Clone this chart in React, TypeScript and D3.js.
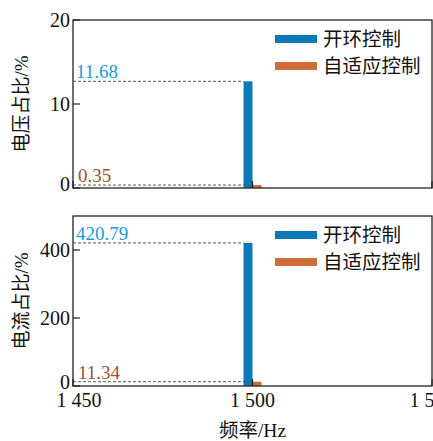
import React from "react";
import * as d3 from "d3";

const series = ["开环控制", "自适应控制"];
const colors = ["#0a78b9", "#d26b3a"];
const labelColors = ["#1a9ad6", "#a0522d"];
const voltageValues = [12.7, 0.35];
const voltageLabels = ["11.68", "0.35"];
const currentValues = [420.79, 12.6];
const currentLabels = ["420.79", "11.34"];
const freq = 1500;
const xTicks = [1450, 1500, 1550];
const xTickLabels = ["1 450", "1 500", "1 550"];
const voltageTicks = [0, 10, 20];
const currentTicks = [0, 200, 400];

const W = 433, H = 441;
const left = 73, right = 432;
const serif = "'Liberation Serif', 'Times New Roman', serif";
const cjk = "'Liberation Serif', 'Noto Sans CJK SC', serif";

const x = d3.scaleLinear().domain([1450, 1550]).range([left, right]);
const barW = 2.5; // Hz

function Panel({ top, bottom, yMax, ticks, values, labels, yTitle, showX }) {
  const y = d3.scaleLinear().domain([0, yMax]).range([bottom, top]);
  return (
    <g>
      {values.map((v, i) => {
        const x0 = x(freq + (i - 1) * barW);
        return (
          <rect key={"b" + i} x={x0} y={y(v)} width={x(freq + i * barW) - x0} height={y(0) - y(v)} fill={colors[i]} />
        );
      })}
      {values.map((v, i) => (
        <line key={"d" + i} x1={left} x2={x(freq + (i - 1) * barW)} y1={y(v)} y2={y(v)} stroke="#555" strokeWidth={1} strokeDasharray="3,2" />
      ))}
      {labels.map((t, i) => (
        <text key={"l" + i} x={left + 3 + (i === 1 ? 2 : 0)} y={y(values[i]) - 3} fill={labelColors[i]} fontFamily={serif} fontSize={19}>{t}</text>
      ))}
      <rect x={left} y={top} width={right - left} height={bottom - top} fill="none" stroke="#222" strokeWidth={1.3} />
      {ticks.map((t) => (
        <g key={t}>
          <line x1={left} x2={left + 7} y1={y(t)} y2={y(t)} stroke="#222" strokeWidth={1.2} />
          <text x={left - 3} y={y(t) - (t === 0 ? 4 : 0)} dy="0.35em" textAnchor="end" fontFamily={serif} fontSize={20} fill="#111">{t}</text>
        </g>
      ))}
      {xTicks.map((t) => (
        <line key={"xt" + t} x1={x(t)} x2={x(t)} y1={bottom} y2={bottom - 7} stroke="#222" strokeWidth={1.2} />
      ))}
      {showX && xTicks.map((t, i) => (
        <text key={"xl" + t} x={x(t) + (i === 0 ? 6 : 0)} y={bottom + 21} textAnchor="middle" fontFamily={serif} fontSize={20} fill="#111">{xTickLabels[i]}</text>
      ))}
      <text transform={`translate(28,${(top + bottom) / 2}) rotate(-90)`} textAnchor="middle" fontFamily={cjk} fontSize={19} fill="#111">{yTitle}</text>
      {series.map((s, i) => (
        <g key={"lg" + i}>
          <rect x={275} y={top + 15 + i * 27} width={42} height={8} fill={colors[i]} />
          <text x={323} y={top + 19 + i * 27} dy="0.35em" fontFamily={cjk} fontSize={19.5} fill="#111">{s}</text>
        </g>
      ))}
    </g>
  );
}

export default function App() {
  return (
    <svg width={W} height={H} style={{ position: "absolute", left: 0, top: 0, background: "#fff" }}>
      <rect width={W} height={H} fill="#fff" />
      <Panel top={20} bottom={188} yMax={20} ticks={voltageTicks} values={voltageValues} labels={voltageLabels} yTitle="电压占比/%" showX={false} />
      <Panel top={216} bottom={386} yMax={500} ticks={currentTicks} values={currentValues} labels={currentLabels} yTitle="电流占比/%" showX={true} />
      <text x={x(1500)} y={437} textAnchor="middle" fontFamily={cjk} fontSize={19.5} fill="#111">频率/Hz</text>
    </svg>
  );
}
